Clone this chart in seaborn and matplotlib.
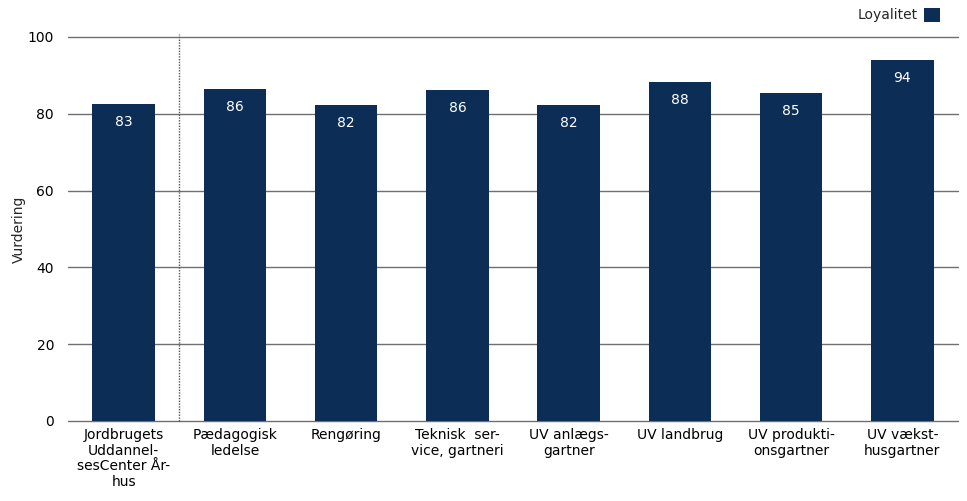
import matplotlib
matplotlib.use("Agg")
import matplotlib.pyplot as plt
import seaborn as sns
import pandas as pd

categories = [
    "Jordbrugets\nUddannel-\nsesCenter År-\nhus",
    "Pædagogisk\nledelse",
    "Rengøring",
    "Teknisk  ser-\nvice, gartneri",
    "UV anlægs-\ngartner",
    "UV landbrug",
    "UV produkti-\nonsgartner",
    "UV vækst-\nhusgartner",
]
values = [82.6, 86.4, 82.3, 86.2, 82.3, 88.4, 85.4, 94.0]
series_name = "Loyalitet"
y_ticks = [0, 20, 40, 60, 80, 100]

bar_color = "#0b2d56"
grid_color = "#6f6f6f"
fs = 10

sns.set_theme(style="white")
plt.rcParams["font.family"] = ["DejaVu Sans"]

df = pd.DataFrame({"Kategori": categories, "Vurdering": values})

fig = plt.figure(figsize=(9.67, 5.01), dpi=100)
ax = fig.add_axes([68 / 967, 1 - 421 / 501, 890 / 967, 384 / 501])

sns.barplot(data=df, x="Kategori", y="Vurdering", color=bar_color,
            saturation=1, width=0.56, label=series_name, ax=ax, zorder=3,
            linewidth=0)

ax.set_ylim(0, 100)
ax.set_xlim(-0.5, len(categories) - 0.5)
ax.set_yticks(y_ticks)
ax.yaxis.grid(True, color=grid_color, linewidth=1.0, zorder=0)
ax.xaxis.grid(False)
for gl in ax.yaxis.get_gridlines():
    gl.set_clip_on(False)
for s in ax.spines.values():
    s.set_visible(False)
ax.tick_params(axis="both", length=0, labelsize=fs, colors="black")
ax.tick_params(axis="y", pad=10)
ax.tick_params(axis="x", pad=5)
ax.set_xlabel("")
ax.set_ylabel("Vurdering", fontsize=fs)
ax.yaxis.set_label_coords(-42 / 890, 0.5)
ax.set_xticks(range(len(categories)))
ax.set_xticklabels(categories, linespacing=1.15, ha="center", va="top")

# separator between the school total and its departments
ax.axvline(0.5, ymin=0, ymax=1.008, color="#555555", linestyle=(0, (1, 1)),
           linewidth=1.0, clip_on=False, zorder=2)

for i, v in enumerate(values):
    ax.annotate(f"{v:.0f}", (i, v), xytext=(0, -8), textcoords="offset points",
                ha="center", va="top", color="white", fontsize=fs, zorder=4)

leg = ax.legend(loc="upper right", bbox_to_anchor=(948 / 967, 1.0),
                bbox_transform=fig.transFigure, frameon=False, markerfirst=False,
                handlelength=1.2, handleheight=1.2, handletextpad=0.4,
                fontsize=fs, borderaxespad=0.15)

fig.savefig("out.png", dpi=100)
